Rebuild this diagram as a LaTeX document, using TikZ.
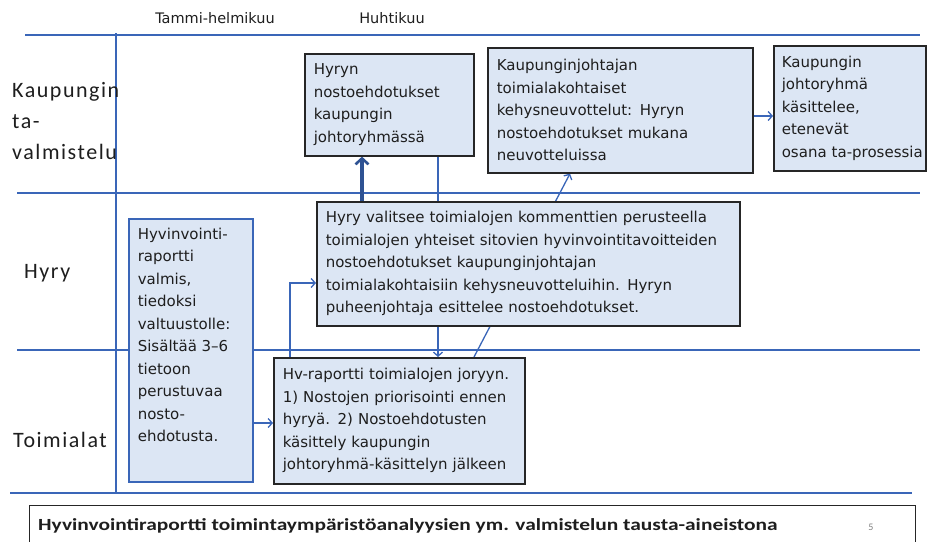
\documentclass[tikz,border=0pt]{standalone}
\usepackage{fontspec}
\setmainfont{DejaVu Sans}
\newfontfamily\calfont{Carlito}
\newfontfamily\labfont[LetterSpace=7]{Carlito}
\usetikzlibrary{arrows.meta,calc}
\pgfdeclarelayer{bg}
\pgfsetlayers{bg,main}
\definecolor{lane}{HTML}{3A66B8}
\definecolor{boxfill}{HTML}{DCE6F4}
\definecolor{boxline}{HTML}{262626}
\definecolor{txt}{HTML}{1E1E1E}
\begin{document}
\begin{tikzpicture}[x=1pt,y=-1pt,
  box/.style={draw=boxline, line width=1.6pt, fill=boxfill, anchor=north west,
    align=left, inner xsep=9pt, inner ysep=0pt, text=txt,
    font=\fontsize{15}{22.5}\selectfont},
  bluebox/.style={box, draw=lane},
  laneline/.style={draw=lane, line width=1.6pt},
  conn/.style={draw=lane, line width=1.3pt},
  tip/.style={-{Straight Barb[length=4pt,width=9pt]}},
  lanelabel/.style={anchor=west, align=left, text=txt, font=\labfont\fontsize{22}{31}\selectfont, inner sep=0pt},
  header/.style={text=txt, font=\fontsize{14.5}{16}\selectfont, inner sep=0pt}
]
\useasboundingbox (0,0) rectangle (928,541);

% headers
\node[header] (h1) at (215,18) {Tammi-helmikuu};
\node[header] (h2) at (392,18) {Huhtikuu};

% lane labels
\node[lanelabel] (l1) at (12,121) {Kaupungin\\ta-\\valmistelu};
\node[lanelabel] (l2) at (24,273) {Hyry};
\node[lanelabel] (l3) at (13,440) {Toimialat};

% boxes
\node[box, text width=151pt, minimum height=102pt] (b1) at (304,53)
  {Hyryn\\nostoehdotukset\\kaupungin\\johtoryhmässä};
\node[box, text width=247pt, minimum height=125pt] (b2) at (487,47)
  {Kaupunginjohtajan\\toimialakohtaiset\\kehysneuvottelut: Hyryn\\nostoehdotukset mukana\\neuvotteluissa};
\node[box, inner xsep=8pt, text width=136pt, minimum height=125pt] (b3) at (773,45)
  {Kaupungin\\johtoryhmä\\käsittelee,\\etenevät\\\mbox{osana ta-prosessia}};
\node[box, text width=405pt, minimum height=124pt] (b4) at (316,201)
  {Hyry valitsee toimialojen kommenttien perusteella\\toimialojen yhteiset sitovien hyvinvointitavoitteiden\\nostoehdotukset kaupunginjohtajan\\toimialakohtaisiin kehysneuvotteluihin. Hyryn\\puheenjohtaja esittelee nostoehdotukset.};
\node[bluebox, minimum width=124pt, minimum height=263pt] (b5) at (128,218)
  {\parbox[c][245pt][t]{106pt}{\raggedright Hyvinvointi-\\raportti\\valmis,\\tiedoksi\\valtuustolle:\\Sisältää 3–6\\tietoon\\perustuvaa\\nosto-\\ehdotusta.}};
\node[box, text width=233pt, minimum height=126pt] (b6) at (273,357)
  {Hv-raportti toimialojen joryyn.\\1) Nostojen priorisointi ennen\\hyryä. 2) Nostoehdotusten\\käsittely kaupungin\\johtoryhmä-käsittelyn jälkeen};

% bottom bar
\node[draw=boxline, line width=1.4pt, fill=white, anchor=north west, minimum width=886pt, minimum height=45pt] (bar) at (29,505) {};
\node[anchor=west, inner sep=0pt, text=txt, font=\calfont\bfseries\fontsize{17}{20}\selectfont] (bt) at (38,526)
  {\scalebox{1.26}[1]{Hyvinvointiraportti toimintaympäristöanalyysien ym. valmistelun tausta-aineistona}};
\node[inner sep=0pt, text=gray, font=\calfont\fontsize{10}{12}\selectfont] (pn) at (871,527) {5};

% lanes and connectors behind boxes
\begin{pgfonlayer}{bg}
  \coordinate (t0) at (25,35);  \coordinate (t1) at (920,35);
  \coordinate (m0) at (17,193); \coordinate (m1) at (920,193);
  \coordinate (n0) at (17,350); \coordinate (n1) at (920,350);
  \coordinate (u0) at (10,493); \coordinate (u1) at (912,493);
  \coordinate (v0) at (116,33); \coordinate (v1) at (116,493);
  \draw[laneline] (t0) -- (t1);
  \draw[laneline] (m0) -- (m1);
  \draw[laneline] (n0) -- (n1);
  \draw[laneline] (u0) -- (u1);
  \draw[laneline] (v0) -- (v1);

  % thick arrow from b4 to b1
  \draw[draw=lane!80!black, line width=3.2pt, -{Straight Barb[length=6pt,width=13pt,line width=2.6pt]}]
    ([xshift=46pt]b4.north west) -- ([xshift=58pt]b1.south west);
  % plain line b1 -> b4
  \draw[conn] ([xshift=134pt]b1.south west) -- ([xshift=122pt]b4.north west);
  % b4 -> b6
  \draw[conn, tip] ([xshift=122pt]b4.south west) -- ([xshift=165pt]b6.north west);
  % diagonal b6 -> b2
  \draw[conn, tip] ([xshift=201pt]b6.north west) -- ([xshift=83pt]b2.south west);
  % b2 -> b3
  \draw[conn, tip] (b2.east |- 0,116) -- (b3.west |- 0,116);
  % b5 -> b6
  \draw[conn, tip] (b5.east |- 0,423) -- (b6.west |- 0,423);
  % elbow b6 -> b4
  \draw[conn, tip] ([xshift=17pt]b6.north west) |- (b4.west |- 0,283);
\end{pgfonlayer}
\end{tikzpicture}
\end{document}
